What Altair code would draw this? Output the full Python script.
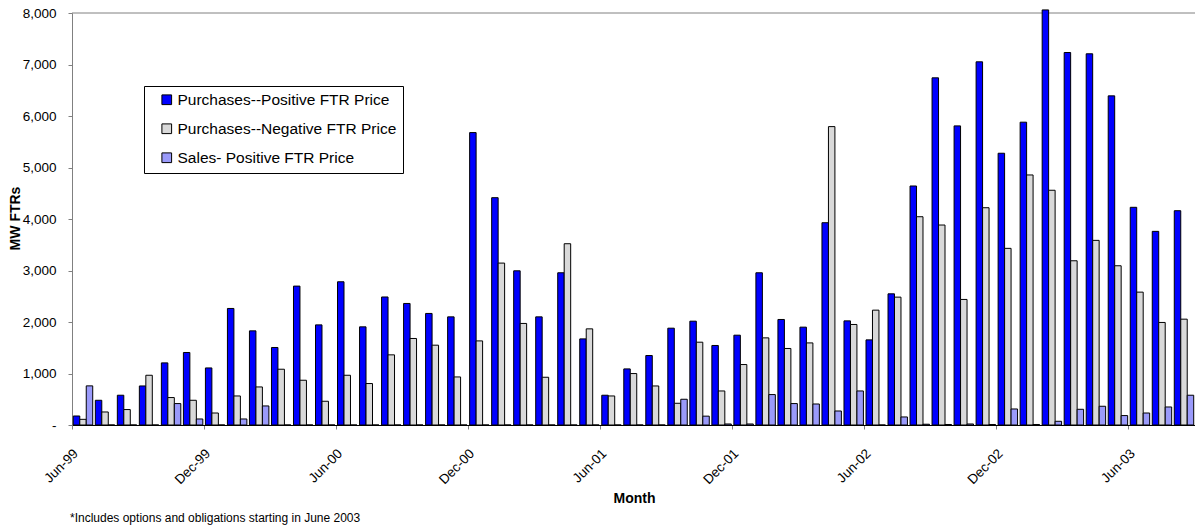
import altair as alt
import pandas as pd

months = [
    "Jun-99", "Jul-99", "Aug-99", "Sep-99", "Oct-99", "Nov-99", "Dec-99",
    "Jan-00", "Feb-00", "Mar-00", "Apr-00", "May-00", "Jun-00", "Jul-00", "Aug-00", "Sep-00", "Oct-00", "Nov-00", "Dec-00",
    "Jan-01", "Feb-01", "Mar-01", "Apr-01", "May-01", "Jun-01", "Jul-01", "Aug-01", "Sep-01", "Oct-01", "Nov-01", "Dec-01",
    "Jan-02", "Feb-02", "Mar-02", "Apr-02", "May-02", "Jun-02", "Jul-02", "Aug-02", "Sep-02", "Oct-02", "Nov-02", "Dec-02",
    "Jan-03", "Feb-03", "Mar-03", "Apr-03", "May-03", "Jun-03", "Jul-03", "Aug-03",
]

purchases_positive = [
    175, 480, 578, 758, 1206, 1408, 1108, 2263, 1828, 1505,
    2697, 1944, 2781, 1906, 2486, 2360, 2166, 2100, 5678, 4414,
    2994, 2100, 2956, 1672, 578, 1089, 1349, 1880, 2016, 1544,
    1744, 2956, 2049, 1900, 3928, 2022, 1653, 2547, 4641, 6741,
    5808, 7052, 5277, 5880, 8060, 7233, 7208, 6391, 4227, 3760, 4161,
]

purchases_negative = [
    110, 253, 300, 966, 533, 480, 233, 564, 739, 1083,
    869, 461, 966, 805, 1362, 1680, 1550, 933, 1633, 3144,
    1972, 927, 3520, 1867, 564, 999, 758, 422, 1608, 661,
    1174, 1692, 1486, 1594, 5794, 1952, 2230, 2483, 4044, 3883,
    2438, 4219, 3430, 4855, 4558, 3189, 3585, 3092, 2580, 1991, 2055,
]

sales_positive = [
    760, 0, 0, 0, 416, 117, 0, 117, 370, 0,
    0, 0, 0, 0, 0, 0, 0, 0, 0, 0,
    0, 0, 0, 0, 0, 0, 0, 500, 172, 20,
    20, 591, 416, 408, 272, 661, 0, 156, 15, 10,
    20, 10, 311, 10, 72, 305, 364, 183, 233, 350, 578,
]

series = [
    "Purchases--Positive FTR Price",
    "Purchases--Negative FTR Price",
    "Sales- Positive FTR Price",
]
series_colors = ["#0000FF", "#D9D9D9", "#9A9AFA"]

tick_labels = ["Jun-99", "Dec-99", "Jun-00", "Dec-00", "Jun-01", "Dec-01", "Jun-02", "Dec-02", "Jun-03"]
y_ticks = [0, 1000, 2000, 3000, 4000, 5000, 6000, 7000, 8000]
footnote = "*Includes options and obligations starting in June 2003"

rows = []
for name, vals in zip(series, [purchases_positive, purchases_negative, sales_positive]):
    for m, v in zip(months, vals):
        rows.append({"month": m, "series": name, "value": v})
df = pd.DataFrame(rows)

FONT = "Liberation Sans"

bars = alt.Chart(df).mark_bar(stroke="black", strokeWidth=1).encode(
    x=alt.X(
        "month:N",
        sort=months,
        scale=alt.Scale(paddingInner=0, paddingOuter=0),
        axis=alt.Axis(
            values=tick_labels,
            bandPosition=0,
            title="Month",
            titleFont=FONT,
            titleFontSize=14,
            titleFontWeight="bold",
            titleColor="black",
            titleX=562,
            titleY=73,
            titleBaseline="middle",
            labelAngle=315,
            labelAlign="right",
            labelBaseline="middle",
            labelPadding=22,
            labelOffset=-7,
            labelFont=FONT,
            labelFontSize=13.5,
            labelColor="black",
            labelOverlap=False,
            tickSize=4,
            tickColor="#808080",
            domainColor="black",
            grid=False,
        ),
    ),
    xOffset=alt.XOffset(
        "series:N",
        sort=series,
        scale=alt.Scale(paddingInner=0, paddingOuter=0.2),
    ),
    y=alt.Y(
        "value:Q",
        scale=alt.Scale(domain=[0, 8000], nice=False),
        axis=alt.Axis(
            values=y_ticks,
            format=",.0f",
            labelExpr="datum.value == 0 ? '-' : datum.label",
            title="MW FTRs",
            titleFont=FONT,
            titleFontSize=14,
            titleFontWeight="bold",
            titleColor="black",
            titleAngle=270,
            titleX=-57,
            titleY=205,
            titleAlign="center",
            titleBaseline="middle",
            labelFont=FONT,
            labelFontSize=13.5,
            labelColor="black",
            labelPadding=12,
            tickSize=4,
            tickColor="#808080",
            domainColor="#808080",
            grid=False,
        ),
    ),
    color=alt.Color(
        "series:N",
        sort=series,
        scale=alt.Scale(domain=series, range=series_colors),
        legend=alt.Legend(
            title=None,
            orient="none",
            legendX=72,
            legendY=73,
            direction="vertical",
            symbolType="square",
            symbolSize=94,
            symbolStrokeColor="black",
            symbolStrokeWidth=1,
            symbolOpacity=1,
            symbolOffset=9,
            labelOffset=3,
            labelFont=FONT,
            labelFontSize=15.5,
            labelColor="black",
            labelLimit=500,
            rowPadding=12,
            padding=6,
            strokeColor="black",
            fillColor="white",
        ),
    ),
)

top_line = alt.Chart(pd.DataFrame({"v": [8000]})).mark_rule(color="#808080", strokeWidth=1).encode(
    y=alt.Y("v:Q")
)

note = alt.Chart(pd.DataFrame({"t": [footnote]})).mark_text(
    align="left", baseline="middle", font=FONT, fontSize=12, color="black"
).encode(
    x=alt.value(-2),
    y=alt.value(505),
    text="t:N",
)

chart = alt.layer(top_line, bars, note).properties(
    width=1123,
    height=412,
    padding={"left": 72, "top": 13, "right": 0, "bottom": 101},
    autosize=alt.AutoSizeParams(type="none"),
    background="white",
).configure_view(strokeWidth=0)

chart.save("out.html", embed_options={"renderer": "svg", "actions": False})
